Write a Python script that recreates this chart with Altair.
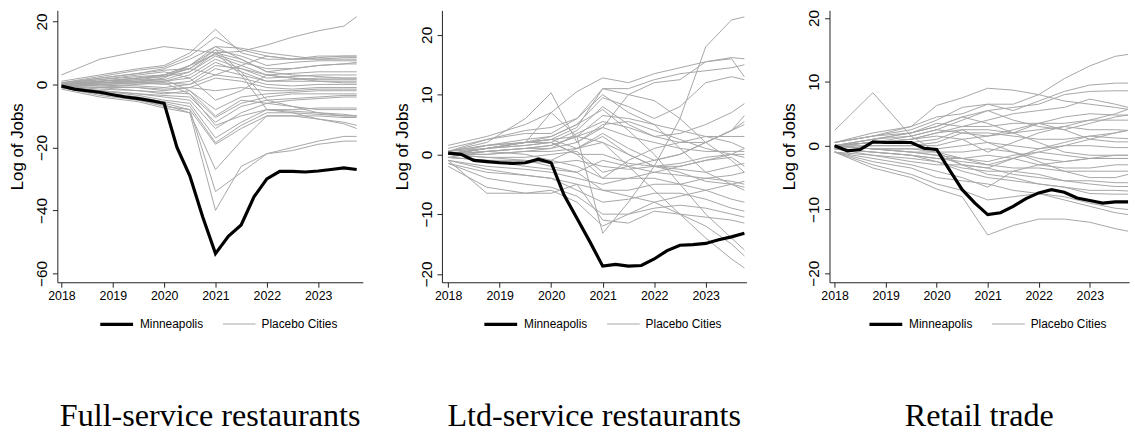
import altair as alt
import pandas as pd

# Time axis: quarterly observations 2018Q1..2023Q4
QUARTERS = [2018 + q / 4 for q in range(24)]
# Time points at which the placebo-city paths are recorded
KNOTS = [2018, 2018.75, 2019.5, 2020, 2020.5, 2021, 2021.5, 2022, 2022.5, 2023, 2023.5, 2023.75]
YEAR_TICKS = [2018, 2019, 2020, 2021, 2022, 2023]
GROUPS = ["Minneapolis", "Placebo Cities"]
TITLES = ["Full-service restaurants", "Ltd-service restaurants", "Retail trade"]

MPLS_FULL = [-0.5, -1.5, -2, -2.5, -3.3, -4, -4.5, -5.2, -6, -20, -29, -42,
             -53.7, -48.2, -44.6, -35.7, -30, -27.6, -27.6, -27.8, -27.5, -27, -26.5, -27]
MPLS_LTD = [0.2, 0, -1, -1.2, -1.4, -1.5, -1.4, -0.8, -1.4, -6.8, -10.7, -14.6,
            -18.7, -18.4, -18.7, -18.6, -17.5, -16.1, -15.2, -15.1, -14.9, -14.3, -13.8, -13.2]
MPLS_RETAIL = [0, -0.8, -0.6, 0.6, 0.5, 0.5, 0.5, -0.4, -0.6, -3.8, -6.9, -9,
               -10.8, -10.5, -9.5, -8.3, -7.4, -6.9, -7.3, -8.2, -8.6, -9, -8.8, -8.8]

PLACEBO_FULL = [
    [3, 8, 10.5, 12, 11, 10, 10.5, 12.5, 15, 17, 18.5, 21.5],
    [1, 3, 5, 6, 10, 17.5, 10, 8, 8, 8.5, 9, 9],
    [0.5, 2.5, 4.5, 5.5, 9, 15, 11, 9, 8, 8, 8.5, 8.5],
    [0, 2, 3.5, 5, 8, 12, 11.5, 10, 9, 8, 8, 8],
    [0.5, 1.5, 2.5, 3, 6, 11, 9, 6, 7, 7.5, 7.5, 7.5],
    [0, 1, 2, 2.5, 5, 10, 8, 4, 5, 6, 6.5, 7],
    [-0.5, 0.5, 1, 2, 6, 9.5, 7, 5, 5, 6, 6.5, 6.5],
    [0, 1, 1.5, 1.5, 4, 9, 6, 3, 3.5, 4, 4, 4],
    [0, 0.5, 1, 1, 3, 8, 5, 2, 2.5, 3, 3, 3],
    [-0.5, 0, 0.5, 1, 2, 7, 4, 1, 1.5, 2, 2, 2],
    [0, 0.5, 0.5, 0, 1, 6, 5, 3, 2, 1.5, 1.5, 1.5],
    [0, -0.5, 0, 0.5, 0, 5, 3, 1, 1, 1, 1, 1],
    [0, 0, -0.5, -1, 0, 3, 2, 0, -0.5, 0, 0, 0],
    [-0.5, -1, -1, -1.5, -1, 2, 1, -1, -1.5, -1, -1, -1],
    [0, -0.5, -1, -2, -1, -2, -1, -2, -2, -1.5, -1.5, -1.5],
    [-0.5, -1.5, -2, -3, -2, -8, -4, -3, -2.5, -2, -2, -2],
    [-0.5, -1, -2, -2.5, -3, -10.5, -6, -4, -3, -3, -3, -3],
    [-1, -2, -3, -3.5, -4, -12, -7, -5, -4.5, -4, -3.5, -3.5],
    [-1, -2, -3, -4, -5, -14, -9, -6, -5, -4.5, -4, -4],
    [-0.5, -2, -3.5, -5, -6, -17, -12, -8, -8, -7.5, -7.5, -7.5],
    [-1, -2.5, -4, -5.5, -7, -18.5, -13, -9, -9, -9.5, -10, -10],
    [-1, -3, -4.5, -6, -8, -19, -14, -10, -10, -10, -10.5, -10.5],
    [-1, -3, -5, -6.5, -9, -27, -18, -10, -10, -11, -12.5, -14],
    [-1, -3.5, -5, -7, -8, -34, -28, -22, -20, -18, -16.5, -16.5],
    [-1.5, -4, -5.5, -7.5, -9, -40, -26, -22, -21, -19, -18, -18],
    [0, 1, 2, 3, 6, 12, 8, 4, 3, 2.5, 2, 2],
    [0.5, 2, 3.5, 4.5, 5, 3, 6, 9, 8, 9, 9, 9],
    [0, 1.5, 3, 4, 2, -5, -2, 3, 2, 1, 0.5, 0.5],
    [0, 0.5, 1, 1.5, -2, -10, -5, -6, -7, -8, -8, -8],
    [0, 0, 0.5, 0.5, -3, -13, -10, -8, -9, -11, -12, -13],
    [0, 1, 2, 3, 5, 11, 4, -5, -7, -9, -10, -10],
    [0, 0.5, 1.5, 2.5, 4, 10, 3, -8, -8.5, -9, -9.5, -10],
]

PLACEBO_LTD = [
    [1.5, 3, 5, 7, 10.5, 12.8, 12, 13.5, 14.5, 15.5, 16.2, 16],
    [1, 2.5, 4, 4.5, 6, 11, 11, 12.5, 13.5, 14, 14.5, 15],
    [0.5, 2, 6, 10.3, 2, 4.5, 10, 12, 12.5, 15.5, 16, 13],
    [0, 1, 2, 7, 3, -13.2, -8, -2, 6, 18, 22.5, 23],
    [0, 1.5, 2.5, 3, 5, 9.5, 8, 6, 8, 12, 13, 12.5],
    [0.5, 1.5, 2, 2.5, 4.5, 11, 10, 9, 6, 2, -1, -3],
    [0, 1, 1.5, 2, 4, 8, 5, 3, 3.5, 5, 7, 8.5],
    [-0.5, 0.5, 1, 1.5, 3, 6.5, 6, 5, 4, 3, 2, 1],
    [0, 0.5, 1, 1, 3.5, 5.5, 4.5, 3, 2, 2, 4, 6.5],
    [0, 0, 0.5, 1, 2, 5, 5.5, 4, 2.5, 1, 0, -0.5],
    [0, 1, 2, 2.5, 1, 3.5, 1, -1, 0, 2, 4, 5.5],
    [0, 0, 0.5, 0.5, 1, 3, 0, -2, -1.5, -0.5, 0, 0],
    [0.5, 1, 1.5, 2, 0, 0, -1.5, -2, -2, -1, 0, 1],
    [0, -0.5, -0.5, 0, 0.5, -3, -2, -1, 0, 2, 4, 5],
    [-0.5, -1, -1.5, -1, -2, -4, -1, 1, 2, 3, 3, 3],
    [0, -0.5, -1, -1.5, -1, -2, -2.5, -2, -2.5, -3, -2, -1.5],
    [-0.5, -1, -2, -2.5, -3, -1, -2, -3, -3.5, -4, -4.5, -5],
    [0, 0.5, 0, -1, 1, 2, 0, -2, -3, -4.5, -5, -5.5],
    [-1, -2, -2.5, -3, -4, -5, -4, -3, -2, -1, -0.5, -2],
    [-1, -2.5, -3.5, -4, -5, -6, -6, -5, -5, -4, -3.5, -3],
    [-1.5, -3, -3.5, -4, -6, -8, -7.5, -6.5, -6.5, -7.5, -9, -9.5],
    [-1.5, -4, -5, -5.5, -7, -10, -10, -9, -8.5, -9, -10, -10.5],
    [-2, -5.5, -6.5, -6.5, -5, -11, -11.5, -9.5, -10, -10.5, -11, -11.5],
    [-1, -6.5, -6.5, -6, -8, -12, -10, -8, -7, -6, -5, -4.5],
    [0.5, 2.5, 3.5, 3.5, 6, 10, 7, 5, 1, -3, -5, -6],
    [0, 1, 2, 3, 5, 7.5, 4, 0, -5, -10, -14, -16],
    [0, 0.5, 1, 1.5, 3, 2, -2, -6, -10, -14, -17.5, -19],
    [-0.5, -1, -1, -2, -3, -6, -7, -8, -10, -12, -15, -17],
    [0, 1, 2, 2, 0, -4, -4, -4, -5, -6, -7.5, -8],
    [0.5, 1.5, 2, 2.5, 3, 4.5, 3, 2, 1, 0.5, 0.5, 0.5],
]

PLACEBO_RETAIL = [
    [2.4, 8.3, 1.5, -1, -3, -3.5, -2, -1, 0, 1, 2, 2.4],
    [0.5, 1.5, 3, 6.3, 7.5, 9, 8.7, 8, 7, 6.5, 6, 5.7],
    [0.5, 1.5, 2.5, 4, 6, 6.5, 6.5, 8, 10.5, 12.5, 14, 14.3],
    [0.5, 2, 3, 4.5, 5, 6.5, 5.5, 7, 8.5, 9.5, 9.8, 9.8],
    [0.5, 1.5, 2, 3, 4.5, 5.5, 6, 6.5, 8, 8.5, 8.6, 8.6],
    [0, 1, 2, 3.5, 3, 4, 5, 5.5, 6, 7.3, 6.5, 6],
    [0, 1, 1.5, 2.5, 4, 5.5, 4, 3, 2.5, 3.5, 4.5, 4.8],
    [0, 0.5, 1, 2, 3, 3, 3.5, 3.5, 3.5, 4, 4, 4],
    [0, 0.5, 0.5, 1, 2.5, 2.5, 2, 2.5, 3, 2.5, 2.5, 2.4],
    [0, 0, 0, 0.5, 2, 2, 1.5, 1, 1, 1.5, 1.2, 1.1],
    [-0.5, 0, 0, 0, 1, 1.5, 2.5, 3.5, 2.5, 1, 0.6, 0.6],
    [0, -0.5, -0.5, -0.5, 0, 0.5, 0, -0.5, 0, 0, -0.3, -0.3],
    [0, -0.5, -1, -1, -1, -0.5, -1, -2, -2.5, -2, -1.5, -1.5],
    [0, -0.5, -1, -1.5, -2, -2.5, -1.5, -1, -1.5, -2, -2, -2],
    [-0.5, -1, -1.5, -2, -2, -1.5, -2, -3, -3.5, -3.5, -3, -3],
    [-0.5, -1, -1.5, -2, -2.5, -3, -3.5, -3.5, -4, -4, -4, -4],
    [0, -0.5, -1, -1.5, -3, -3.5, -4.5, -5, -5.5, -5.5, -5.8, -5.8],
    [-0.5, -1, -1.5, -2.5, -3.5, -4, -4, -4.5, -5.5, -6, -6.4, -6.4],
    [-0.5, -1.5, -2, -2.5, -4, -5, -5.5, -6, -6.5, -7, -7, -7.1],
    [-1, -1.5, -2.5, -3, -3, -4.5, -5, -6, -6.5, -7.5, -7.6, -7.6],
    [-1, -2, -3, -4, -5, -6.5, -4, -3, -2.5, -2, -2, -2],
    [-1, -2.5, -3.5, -5, -5.5, -6, -7, -7.5, -8, -9, -9.8, -10],
    [-1, -3, -4.5, -6, -7, -8.5, -8, -7.5, -8.5, -9.5, -10.5, -10.8],
    [-1, -3.5, -5, -6.8, -8, -14, -12.5, -11.5, -11.5, -12, -13, -13.4],
    [0, 1, 2, 3, 4.5, 3.5, 2, 0.5, -1, -1.5, -1.5, -1.5],
    [0, 0.5, 1, 1.5, 1, -1, 0.5, 2, 3, 4, 5, 5.7],
    [0, -0.5, -0.5, -1, -2, -3, -2, -0.5, 0.5, 1.5, 2, 2.4],
    [0, 0.5, 1, 2, 2.5, 0.5, -1, -2.5, -4, -5, -5, -4.5],
    [0, 0.5, 1.5, 2.5, 2, 1.5, 2, 3.5, 4.5, 5, 4.8, 4.8],
]

SANS = "Liberation Sans, Arial, sans-serif"
SERIF = "Liberation Serif, Times New Roman, serif"
LEGEND_WIDTH = 226  # approximate rendered width of the two-entry legend


def build_frame(mpls, placebo):
    rows = [{"t": t, "v": v, "city": "Minneapolis", "group": GROUPS[0]}
            for t, v in zip(QUARTERS, mpls)]
    for i, series in enumerate(placebo):
        rows += [{"t": t, "v": v, "city": f"placebo{i}", "group": GROUPS[1]}
                 for t, v in zip(KNOTS, series)]
    return pd.DataFrame(rows)


def panel(df, title, ydomain, yticks, xdomain, width):
    # legend centred under the plot area
    legend = alt.Legend(
        title=None, orient="none", direction="horizontal", symbolType="stroke",
        legendX=(width - LEGEND_WIDTH) / 2, legendY=299,
        symbolSize=1100, labelFont=SANS, labelFontSize=12, labelColor="black",
        labelOffset=5, columnPadding=16,
    )
    base = alt.Chart(df).encode(
        x=alt.X("t:Q", scale=alt.Scale(domain=xdomain, nice=False, zero=False),
                axis=alt.Axis(values=YEAR_TICKS, format="d", title=None,
                              labelFont=SANS, labelFontSize=12.5, labelColor="black",
                              tickSize=5, labelPadding=2)),
        y=alt.Y("v:Q", scale=alt.Scale(domain=ydomain, nice=False, zero=False),
                axis=alt.Axis(values=yticks, title="Log of Jobs", labelAngle=270,
                              labelFont=SANS, labelFontSize=15.5, labelColor="black",
                              tickSize=5, labelPadding=3, titleFont=SANS,
                              titleFontSize=17, titleFontWeight="normal",
                              titleColor="black", titlePadding=8)),
        color=alt.Color("group:O", scale=alt.Scale(domain=GROUPS, range=["#000000", "#a6a6a6"]),
                        legend=legend),
        strokeWidth=alt.StrokeWidth("group:O", scale=alt.Scale(domain=GROUPS, range=[3.2, 1.0]),
                                    legend=legend),
        detail="city:N",
    )
    placebo = base.transform_filter(alt.datum.group == GROUPS[1]).mark_line()
    mpls = base.transform_filter(alt.datum.group == GROUPS[0]).mark_line()
    return alt.layer(placebo, mpls).properties(
        width=width, height=275,
        title=alt.TitleParams(title, orient="bottom", font=SERIF, fontSize=32.5,
                              fontWeight="normal", color="black", offset=70),
    )


p1 = panel(build_frame(MPLS_FULL, PLACEBO_FULL), TITLES[0],
           [-62.8, 23.5], [-60, -40, -20, 0, 20], [2017.92, 2023.87], 309)
p2 = panel(build_frame(MPLS_LTD, PLACEBO_LTD), TITLES[1],
           [-21.4, 24.1], [-20, -10, 0, 10, 20], [2017.88, 2023.79], 308)
p3 = panel(build_frame(MPLS_RETAIL, PLACEBO_RETAIL), TITLES[2],
           [-21.4, 21.2], [-20, -10, 0, 10, 20], [2017.9, 2023.77], 303)

chart = (
    alt.hconcat(p1, p2, p3, spacing=30)
    .resolve_scale(x="independent", y="independent", color="independent",
                   strokeWidth="independent")
    .resolve_legend(color="independent", strokeWidth="independent")
    .properties(padding={"left": 9, "top": 7, "right": 0, "bottom": 0}, background="white")
    .configure_view(stroke=None)
    .configure_axis(grid=False, domainColor="#222222", tickColor="#222222", domainWidth=1)
)

chart.save("out.html", embed_options={"renderer": "svg", "actions": False})
